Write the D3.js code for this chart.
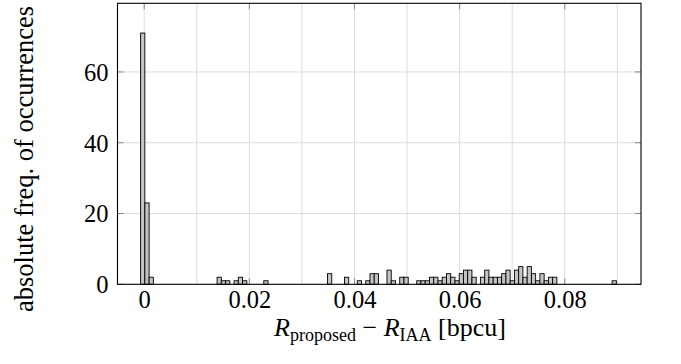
<!DOCTYPE html>
<html><head><meta charset="utf-8">
<script src="https://cdn.jsdelivr.net/npm/d3@7/dist/d3.min.js"></script>
<style>
html,body{margin:0;padding:0;background:#fff;}
svg{display:block;}
text{font-family:"Liberation Serif","DejaVu Serif",serif;fill:#000;}
</style></head>
<body>
<svg id="chart" width="681" height="364"></svg>
<script>
// ---- data ----
const binOrigin = -0.000684;   // left edge of first histogram bin
const binWidth = 0.000808;     // width of each bin
const binIndex = [0,1,2,18,19,20,22,23,24,29,44,48,51,53,54,55,58,59,61,62,
  65,66,67,68,69,70,71,72,73,74,75,76,77,78,80,81,82,83,84,85,86,87,88,89,90,
  91,92,93,94,95,96,97,111];
const counts = [71,23,2,2,1,1,1,2,1,1,3,2,1,1,3,3,4,1,2,2,
  1,1,1,2,2,1,2,3,2,1,3,4,4,2,2,4,2,2,2,3,4,1,4,5,2,
  5,3,1,3,1,2,2,1];
const xTickValues = [0, 0.02, 0.04, 0.06, 0.08];
const xTickLabels = ["0", "0.02", "0.04", "0.06", "0.08"];
const xGridValues = [0,0.01,0.02,0.03,0.04,0.05,0.06,0.07,0.08,0.09];
const yTickValues = [0, 20, 40, 60];
const yTickLabels = ["0", "20", "40", "60"];
const xDomain = [-0.00508, 0.0945];
const yDomain = [0, 79.4];

const data = binIndex.map((b, i) => ({x0: binOrigin + b * binWidth, x1: binOrigin + (b + 1) * binWidth, n: counts[i]}));

// ---- layout ----
const L = 117.5, R = 641, T = 3.3, B = 284.3;
const svg = d3.select("#chart");
const x = d3.scaleLinear().domain(xDomain).range([L, R]);
const y = d3.scaleLinear().domain(yDomain).range([B, T]);

// grid
const g = svg.append("g");
g.selectAll("line.vg").data(xGridValues).join("line")
  .attr("x1", d => x(d)).attr("x2", d => x(d)).attr("y1", T).attr("y2", B)
  .attr("stroke", "#dcdcdc").attr("stroke-width", 1);
g.selectAll("line.hg").data(yTickValues.filter(v => v > 0)).join("line")
  .attr("x1", L).attr("x2", R).attr("y1", d => y(d)).attr("y2", d => y(d))
  .attr("stroke", "#dcdcdc").attr("stroke-width", 1);

// inward tick marks
const tl = 6;
const tk = svg.append("g").attr("stroke", "#888").attr("stroke-width", 1);
yTickValues.forEach(v => {
  tk.append("line").attr("x1", L).attr("x2", L + tl).attr("y1", y(v)).attr("y2", y(v));
  tk.append("line").attr("x1", R).attr("x2", R - tl).attr("y1", y(v)).attr("y2", y(v));
});
xTickValues.forEach(v => {
  tk.append("line").attr("x1", x(v)).attr("x2", x(v)).attr("y1", B).attr("y2", B - tl);
  tk.append("line").attr("x1", x(v)).attr("x2", x(v)).attr("y1", T).attr("y2", T + tl);
});

// bars
svg.append("g").selectAll("rect").data(data).join("rect")
  .attr("x", d => x(d.x0)).attr("width", d => x(d.x1) - x(d.x0))
  .attr("y", d => y(d.n)).attr("height", d => y(0) - y(d.n))
  .attr("fill", "#c4c4c4").attr("stroke", "#000").attr("stroke-width", 0.9);

// frame
svg.append("rect").attr("x", L).attr("y", T).attr("width", R - L).attr("height", B - T)
  .attr("fill", "none").attr("stroke", "#000").attr("stroke-width", 1.1);

// axes labels via d3 axes (no lines, only text)
const xAxis = d3.axisBottom(x).tickValues(xTickValues).tickFormat((d, i) => xTickLabels[i]).tickSize(0).tickPadding(0);
const xa = svg.append("g").attr("transform", `translate(0,${B})`).call(xAxis);
xa.select(".domain").remove();
xa.selectAll("text").attr("font-size", 24.5).attr("font-family", "Liberation Serif, serif").attr("dy", "0").attr("y", 24);

const yAxis = d3.axisLeft(y).tickValues(yTickValues).tickFormat((d, i) => yTickLabels[i]).tickSize(0).tickPadding(0);
const ya = svg.append("g").attr("transform", `translate(${L},0)`).call(yAxis);
ya.select(".domain").remove();
ya.selectAll("text").attr("font-size", 24.5).attr("font-family", "Liberation Serif, serif").attr("x", -9).attr("dy", "0.34em");

// y axis title
svg.append("text").attr("transform", `translate(33,${159}) rotate(-90)`)
  .attr("text-anchor", "middle").attr("font-size", 26.5)
  .text("absolute freq. of occurrences");

// x axis title
const xt = svg.append("text").attr("x", 390).attr("y", 336).attr("text-anchor", "middle").attr("font-size", 26);
xt.append("tspan").attr("font-style", "italic").text("R");
xt.append("tspan").attr("font-size", 18).attr("dy", 5).text("proposed");
xt.append("tspan").attr("dy", -5).text(" \u2212 ");
xt.append("tspan").attr("font-style", "italic").text("R");
xt.append("tspan").attr("font-size", 18).attr("dy", 5).text("IAA");
xt.append("tspan").attr("dy", -5).text("  [bpcu]");
</script>
</body></html>
